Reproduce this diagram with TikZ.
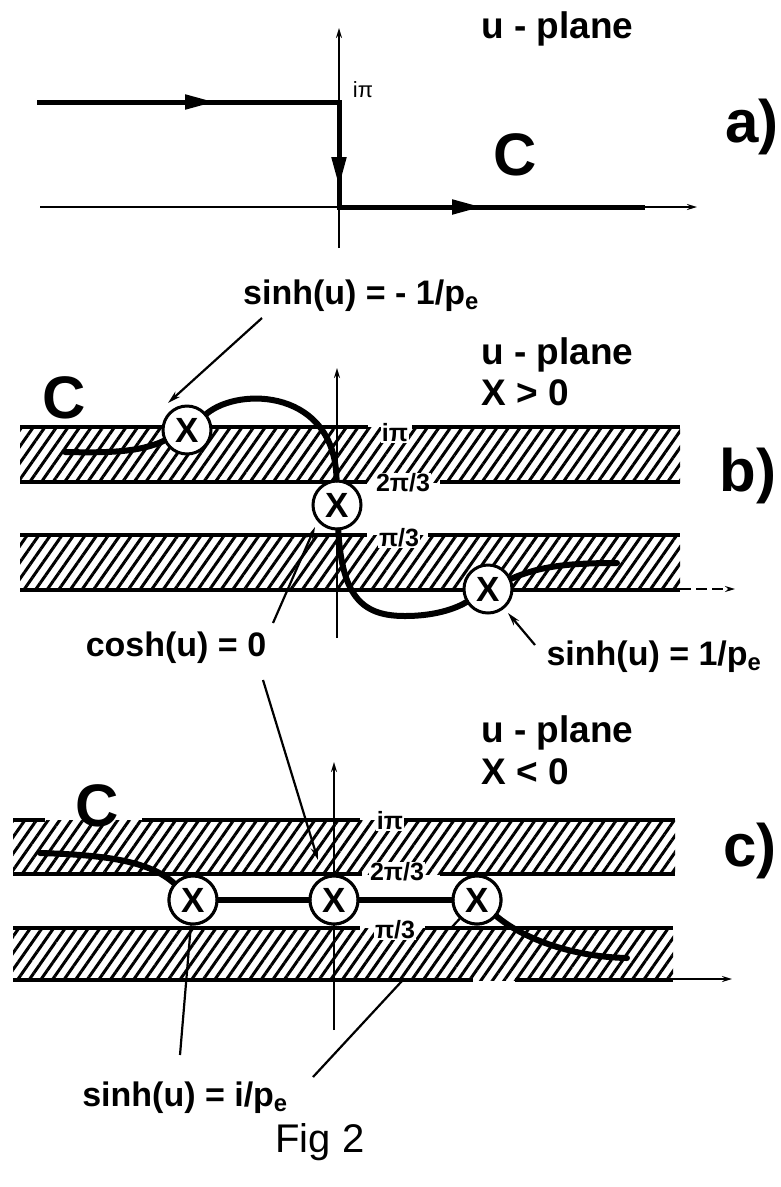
\documentclass[tikz,border=0pt]{standalone}
\usepackage{fontspec}
\setmainfont{Liberation Sans}
\usetikzlibrary{arrows.meta,patterns.meta}
\begin{document}
\begin{tikzpicture}[x=1pt,y=-1pt,
  lab/.style={font=\fontsize{34}{36}\selectfont\bfseries, inner sep=0pt},
  plab/.style={font=\fontsize{37}{40}\selectfont\bfseries, inner sep=0pt, anchor=west},
  big/.style={font=\fontsize{60}{62}\selectfont\bfseries, inner sep=0pt},
  blab/.style={font=\fontsize{25}{27}\selectfont\bfseries, fill=white, inner sep=1pt},
  xmark/.style={circle, draw, line width=3pt, fill=white, minimum size=48pt, inner sep=0pt, font=\fontsize{35}{35}\selectfont\bfseries},
  band/.style={fill=white, postaction={pattern={Lines[angle=55,distance=9.5pt,line width=3pt]}}},
  border/.style={line width=4pt},
  axis/.style={line width=1.8pt},
  contour/.style={line width=6pt, line cap=round},
  leader/.style={line width=2.2pt},
  tip/.style={-{Stealth[length=13pt,width=7pt]}},
  axtip/.style={-{Stealth[length=10pt,width=6pt]}},
  mid/.style={line width=5pt,-{Triangle[length=30pt,width=14pt]}},
]
\useasboundingbox (0,0) rectangle (780,1187);

% ---------------- panel a ----------------
\draw[axis,axtip] (339,248) -- (339,28);
\draw[axis,axtip] (40,207) -- (697,207);
\coordinate (a0) at (37,102);
\coordinate (a1) at (339,102);
\coordinate (a2) at (339,207);
\coordinate (a3) at (645,207);
\coordinate (am1) at (215,102);
\coordinate (am2) at (339,187);
\coordinate (am3) at (482,207);
\draw[line width=5pt] (a0) -- (a1) -- (a2) -- (a3);
\draw[mid] (a0) -- (am1);
\draw[mid] (a1) -- (am2);
\draw[mid] (a2) -- (am3);
\node[font=\fontsize{22}{24}\selectfont, inner sep=0pt] (ipa) at (363,90) {iπ};
\node[plab] (ua) at (481,29) {u - plane};
\node[big] (Ca) at (515,155) {C};
\node[big] (la) at (752,127) {a)};

% ---------------- panel b ----------------
\path[band] (20,427) rectangle (680,482);
\path[band] (20,535) rectangle (680,590);
\draw[axis,axtip] (337,638) -- (337,368);
\draw[border] (20,427) -- (368,427) (412,427) -- (680,427);
\draw[border] (20,482) -- (367,482) (440,482) -- (680,482);
\draw[border] (20,535) -- (367,535) (428,535) -- (680,535);
\draw[border] (20,590) -- (680,590);
\draw[axis,axtip,dash pattern=on 11pt off 5pt] (680,589) -- (735,589);
\node[blab] (bip) at (395,433) {iπ};
\node[blab] (b2p) at (403,483) {2π/3};
\node[blab] (bp3) at (399,538) {π/3};

\node[xmark] (bX1) at (187,430) {X};
\node[xmark] (bX2) at (337,505) {X};
\node[xmark] (bX3) at (488,589) {X};

\coordinate (cb0) at (65,452);
\coordinate (cb1) at (617,563);
\draw[contour] (cb0) .. controls (110,453) and (140,452) .. (bX1);
\draw[contour] (bX1) .. controls (240,386) and (335,390) .. (bX2);
\draw[contour] (bX2) .. controls (342,600) and (365,616) .. (405,616) .. controls (440,616) and (460,606) .. (bX3);
\draw[contour] (bX3) .. controls (540,566) and (570,563) .. (cb1);

\node[lab] (sinhm) at (361,296) {sinh(u) = - 1/p\textsubscript{e}};
\node[plab] (ub) at (481,355) {u - plane};
\node[plab] (xb) at (481,393) {X > 0};
\node[big] (Cb) at (64,398) {C};
\node[big] (lb) at (748,476) {b)};
\node[lab] (cosh) at (176,648) {cosh(u) = 0};
\node[lab] (sinhp) at (654,657) {sinh(u) = 1/p\textsubscript{e}};

\coordinate (l1s) at (262,318);
\coordinate (l1e) at (168,403);
\draw[leader,tip] (l1s) -- (l1e);
\coordinate (l2s) at (273,623);
\coordinate (l2e) at (315,527);
\draw[leader,tip] (l2s) -- (l2e);
\coordinate (l3s) at (535,645);
\coordinate (l3e) at (508,613);
\draw[leader,tip] (l3s) -- (l3e);
\coordinate (l4s) at (263,680);
\coordinate (l4e) at (318,860);

% ---------------- panel c ----------------
\node[xmark] (cX1) at (193,900) {X};
\node[xmark] (cX2) at (334,900) {X};
\node[xmark] (cX3) at (477,900) {X};
\coordinate (ls2) at (313,1077);
\draw[leader] (ls2) -- (cX3);

\path[band] (13,820) rectangle (675,874);
\path[band] (13,928) rectangle (673,980);
\draw[axis,axtip] (334,1030) -- (334,762);
\draw[border] (13,820) -- (45,820) (142,820) -- (360,820) (402,820) -- (675,820);
\draw[border] (13,874) -- (362,874) (440,874) -- (675,874);
\draw[border] (13,928) -- (360,928) (425,928) -- (673,928);
\draw[border] (13,980) -- (473,980) (515,980) -- (673,980);
\draw[axis,axtip] (673,979) -- (732,979);
\node[blab] (cip) at (390,821) {iπ};
\node[blab] (c2p) at (397,872) {2π/3};
\node[blab] (cp3) at (395,930) {π/3};

\node[xmark] at (cX1) {X};
\node[xmark] at (cX2) {X};
\node[xmark] at (cX3) {X};

\coordinate (cc0) at (40,853);
\coordinate (cc1) at (627,958);
\draw[contour] (cc0) .. controls (110,855) and (150,862) .. (cX1);
\draw[contour] (cX1) -- (cX2);
\draw[contour] (cX2) -- (cX3);
\draw[contour] (cX3) .. controls (525,940) and (575,957) .. (cc1);

\draw[leader,tip] (l4s) -- (l4e);
\coordinate (ls1) at (180,1055);
\draw[leader] (ls1) -- (cX1);

\node[plab] (uc) at (481,733) {u - plane};
\node[plab] (xc) at (481,772) {X < 0};
\node[big] (Cc) at (97,806) {C};
\node[big] (lc) at (750,851) {c)};
\node[lab] (sinhi) at (185,1098) {sinh(u) = i/p\textsubscript{e}};
\node[font=\fontsize{40}{42}\selectfont, inner sep=0pt] (fig) at (320,1142) {Fig 2};
\end{tikzpicture}
\end{document}
